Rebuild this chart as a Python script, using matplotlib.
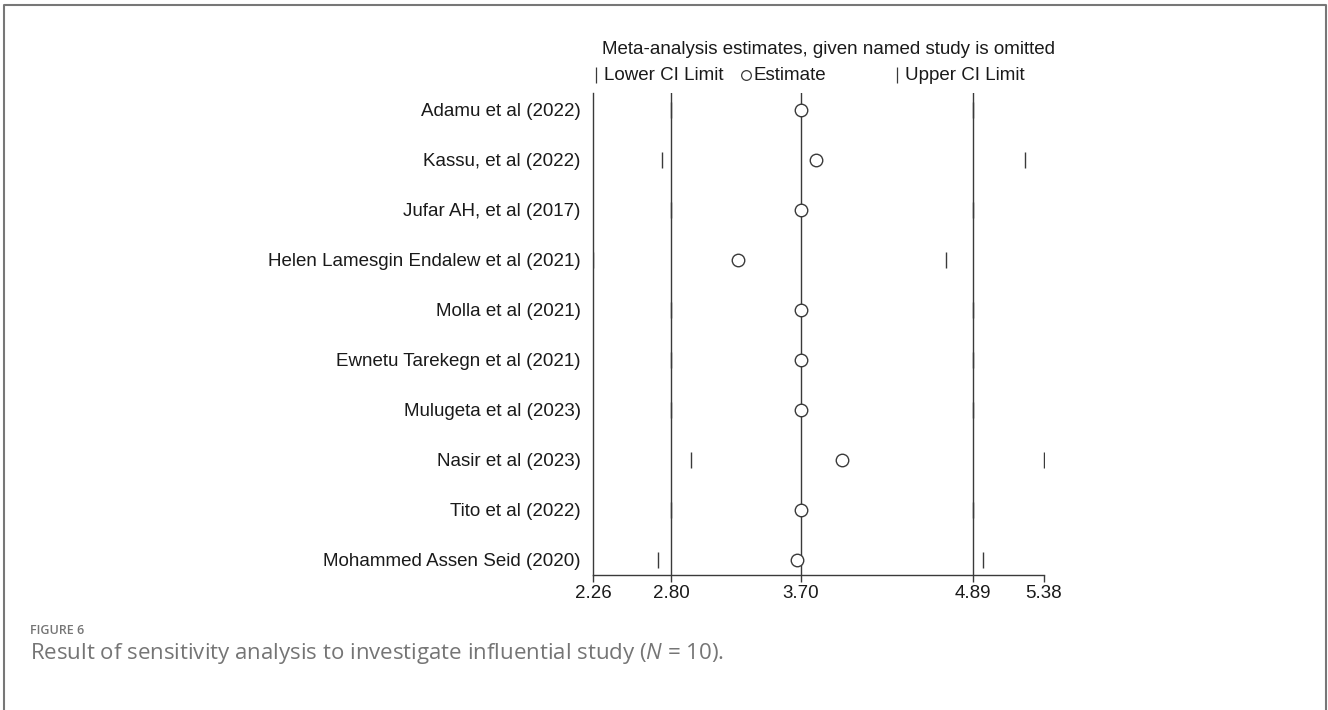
import numpy as np
import matplotlib
matplotlib.use("Agg")
import matplotlib.pyplot as plt
from matplotlib.lines import Line2D

plt.rcParams['font.family'] = ['Liberation Sans', 'DejaVu Sans']
plt.rcParams['mathtext.fontset'] = 'custom'
plt.rcParams['mathtext.it'] = 'Open Sans:italic'
plt.rcParams['mathtext.rm'] = 'Open Sans'

# studies omitted one at a time, with the pooled estimate and CI that remain
studies = ["Adamu et al (2022)", "Kassu, et al (2022)", "Jufar AH, et al (2017)",
           "Helen Lamesgin Endalew et al (2021)", "Molla et al (2021)",
           "Ewnetu Tarekegn et al (2021)", "Mulugeta et al (2023)",
           "Nasir et al (2023)", "Tito et al (2022)", "Mohammed Assen Seid (2020)"]
estimate = [3.70, 3.80, 3.70, 3.26, 3.70, 3.70, 3.70, 3.98, 3.70, 3.67]
lower_ci = [2.80, 2.74, 2.80, 2.26, 2.80, 2.80, 2.80, 2.94, 2.80, 2.71]
upper_ci = [4.89, 5.25, 4.89, 4.70, 4.89, 4.89, 4.89, 5.38, 4.89, 4.96]

# full-data pooled estimate and CI
overall = [2.80, 3.70, 4.89]
xticks = [2.26, 2.80, 3.70, 4.89, 5.38]

ink = '#3a3a3a'
txt = '#1a1a1a'

fig = plt.figure(figsize=(13.28, 7.10), dpi=100)
ax = fig.add_axes([593/1328, 135/710, 451/1328, 482/710])

pos = np.arange(1, len(studies) + 1)
for v in overall:
    ax.axvline(v, color=ink, lw=1.0, zorder=1)
ax.plot(lower_ci, pos, ls='none', marker='|', ms=11, mew=1.0, color=ink, zorder=2)
ax.plot(upper_ci, pos, ls='none', marker='|', ms=11, mew=1.0, color=ink, zorder=2)
ax.plot(estimate, pos, ls='none', marker='o', ms=9, mfc='white', mec=ink, mew=1.0, zorder=3)

ax.set_xlim(xticks[0], xticks[-1])
ax.set_ylim(10.30, 0.66)
ax.set_xticks(xticks)
ax.set_xticklabels([f"{t:.2f}" for t in xticks])
ax.set_yticks(pos)
ax.set_yticklabels(studies)
ax.tick_params(axis='y', length=0, pad=9, labelsize=13.5, colors=txt)
ax.tick_params(axis='x', length=5, width=1.0, color=ink, pad=2, labelsize=13.5,
               labelcolor=txt)
for s in ['top', 'right']:
    ax.spines[s].set_visible(False)
for s in ['left', 'bottom']:
    ax.spines[s].set_color(ink)
    ax.spines[s].set_linewidth(1.0)

# legend row drawn above the plot
fig.text(829/1328, 1 - 49/710, "Meta-analysis estimates, given named study is omitted",
         ha='center', va='center', fontsize=13.5, color=txt)
ly = 1 - 75/710
fig.add_artist(Line2D([596/1328], [ly], ls='none', marker='|', ms=11, mew=0.9, color=ink))
fig.text(604/1328, ly, "Lower CI Limit", ha='left', va='center', fontsize=13.5, color=txt)
fig.add_artist(Line2D([746/1328], [ly], ls='none', marker='o', ms=7, mfc='white', mec=ink, mew=0.9))
fig.text(754/1328, ly, "Estimate", ha='left', va='center', fontsize=13.5, color=txt)
fig.add_artist(Line2D([897/1328], [ly], ls='none', marker='|', ms=11, mew=0.9, color=ink))
fig.text(905/1328, ly, "Upper CI Limit", ha='left', va='center', fontsize=13.5, color=txt)

# caption
cap = '#757575'
fig.text(30/1328, 1 - 630/710, "FIGURE 6", ha='left', va='center', fontsize=9,
         color=cap, weight='semibold', family=['Open Sans', 'DejaVu Sans'])
fig.text(30/1328, 1 - 653/710,
         r"Result of sensitivity analysis to investigate influential study ($N$ = 10).",
         ha='left', va='center', fontsize=16, color=cap, family=['Open Sans', 'DejaVu Sans'])

# frame around the figure (open at the bottom)
frame = '#777777'
fig.add_artist(Line2D([4/1328, 4/1328, 1326/1328, 1326/1328], [0, 1 - 5/710, 1 - 5/710, 0],
                      color=frame, lw=1.5))

fig.savefig("out.png", dpi=100)
